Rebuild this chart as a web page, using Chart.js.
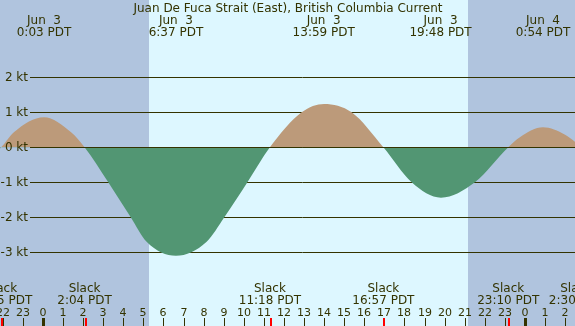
<!DOCTYPE html>
<html>
<head>
<meta charset="utf-8">
<script src="https://cdn.jsdelivr.net/npm/chart.js@4"></script>
<style>
body{margin:0;background:#b0c4de;}
canvas{display:block;}
</style>
</head>
<body>
<canvas id="tideChart" width="575" height="326"></canvas>
<script>

// CURRENT DATA (hours from Jun 3 0:00 PDT, knots)

const hours = [-2.25,-2.08,-1.45,0.05,1.4,2.07,3.25,4.37,5.16,6.62,8.15,9.03,10.18,11.30,12.88,14.0,15.37,16.95,18.36,19.82,21.51,23.17,23.75,24.9,26.0,26.49,26.8];
const knots = [-0.08,0,0.43,0.86,0.43,0,-1,-2,-2.7,-3.10,-2.7,-2,-1,0,1,1.24,1,0,-1,-1.44,-1,0,0.29,0.57,0.36,0.16,0];

// max current events (top)
const maxTimes = [0.05,6.62,13.98,19.8,24.9];
const maxDates = ["Jun  3","Jun  3","Jun  3","Jun  3","Jun  4"];
const maxLabels = ["0:03 PDT","6:37 PDT","13:59 PDT","19:48 PDT","0:54 PDT"];

// slack events (bottom)
const slackTimes = [-2.08,2.07,11.30,16.95,23.17,26.55];
const slackLabels = ["21:55 PDT","2:04 PDT","11:18 PDT","16:57 PDT","23:10 PDT","2:30 PDT"];

// hour ticks
const tickHours = [-2,-1,0,1,2,3,4,5,6,7,8,9,10,11,12,13,14,15,16,17,18,19,20,21,22,23,24,25,26];
const tickLabels = ["22","23","0","1","2","3","4","5","6","7","8","9","10","11","12","13","14","15","16","17","18","19","20","21","22","23","0","1","2"];

const kts = [2,1,0,-1,-2,-3];
const ktLabels = ["2 kt","1 kt","0 kt","-1 kt","-2 kt","-3 kt"];

const sunrise = 5.28;
const sunset = 21.17;

const ink = "#333300";
const font = '12px "DejaVu Sans"';


// BACKGROUND + GRID

const backdrop = {
id:"backdrop",
beforeDatasetsDraw(chart){
const ctx = chart.ctx;
const x = chart.scales.x, y = chart.scales.y;
ctx.save();
ctx.fillStyle = "#b0c4de";
ctx.fillRect(0,0,chart.width,chart.height);
ctx.fillStyle = "#ddf7ff";
const x1 = Math.round(x.getPixelForValue(sunrise));
const x2 = Math.round(x.getPixelForValue(sunset));
ctx.fillRect(x1,0,x2-x1,chart.height);
ctx.strokeStyle = ink;
ctx.lineWidth = 1;
kts.forEach(k=>{
const py = Math.round(y.getPixelForValue(k))+0.5;
ctx.beginPath();
ctx.moveTo(30,py);
ctx.lineTo(chart.width,py);
ctx.stroke();
});
ctx.restore();
}
};


// LABELS

const labels = {
id:"labels",
afterDatasetsDraw(chart){
const ctx = chart.ctx;
const x = chart.scales.x, y = chart.scales.y;
ctx.save();

// zero line on top
ctx.strokeStyle = ink;
ctx.lineWidth = 1;
const zy = Math.round(y.getPixelForValue(0))+0.5;
ctx.beginPath();
ctx.moveTo(30,zy);
ctx.lineTo(chart.width,zy);
ctx.stroke();

ctx.fillStyle = ink;
ctx.font = font;

// y labels
ctx.textAlign = "right";
ctx.textBaseline = "middle";
kts.forEach((k,i)=>{
ctx.fillText(ktLabels[i],28,y.getPixelForValue(k)+0.5);
});

ctx.textAlign = "center";
ctx.textBaseline = "alphabetic";

ctx.fillText("Juan De Fuca Strait (East), British Columbia Current",288,12);

maxTimes.forEach((t,i)=>{
const px = x.getPixelForValue(t);
ctx.fillText(maxDates[i],px,24);
ctx.fillText(maxLabels[i],px,36);
});

slackTimes.forEach((t,i)=>{
const px = x.getPixelForValue(t);
ctx.fillText("Slack",px,292);
ctx.fillText(slackLabels[i],px,304);
});

// hour ticks
ctx.font = '11px "DejaVu Sans"';
tickHours.forEach((h,i)=>{
const px = Math.round(x.getPixelForValue(h));
ctx.fillText(tickLabels[i],px,316);
if(h%24===0){
ctx.fillRect(px-1,318,3,8);
}else{
ctx.fillRect(px,318,1,8);
}
});

ctx.fillStyle = "#ff0000";
slackTimes.forEach(t=>{
const px = Math.round(x.getPixelForValue(t));
ctx.fillRect(px,318,2,8);
});

ctx.restore();
}
};


// CURRENT CHART

new Chart(

document.getElementById("tideChart"),

{

type:"line",

data:{

datasets:[{

data:hours.map((h,i)=>({x:h,y:knots[i]})),

borderWidth:0,

borderColor:"rgba(0,0,0,0)",

pointRadius:0,

cubicInterpolationMode:"monotone",

fill:{
target:"origin",
above:"#bc9a7a",
below:"#529673"
}

}]

},

options:{

responsive:false,

animation:false,

layout:{padding:0},

scales:{

x:{type:"linear",min:-2.141,max:26.494,display:false},

y:{min:-5.106,max:4.209,display:false}

},

plugins:{

legend:{display:false},

tooltip:{enabled:false}

}

},

plugins:[backdrop,labels]

});

</script>
</body>
</html>
